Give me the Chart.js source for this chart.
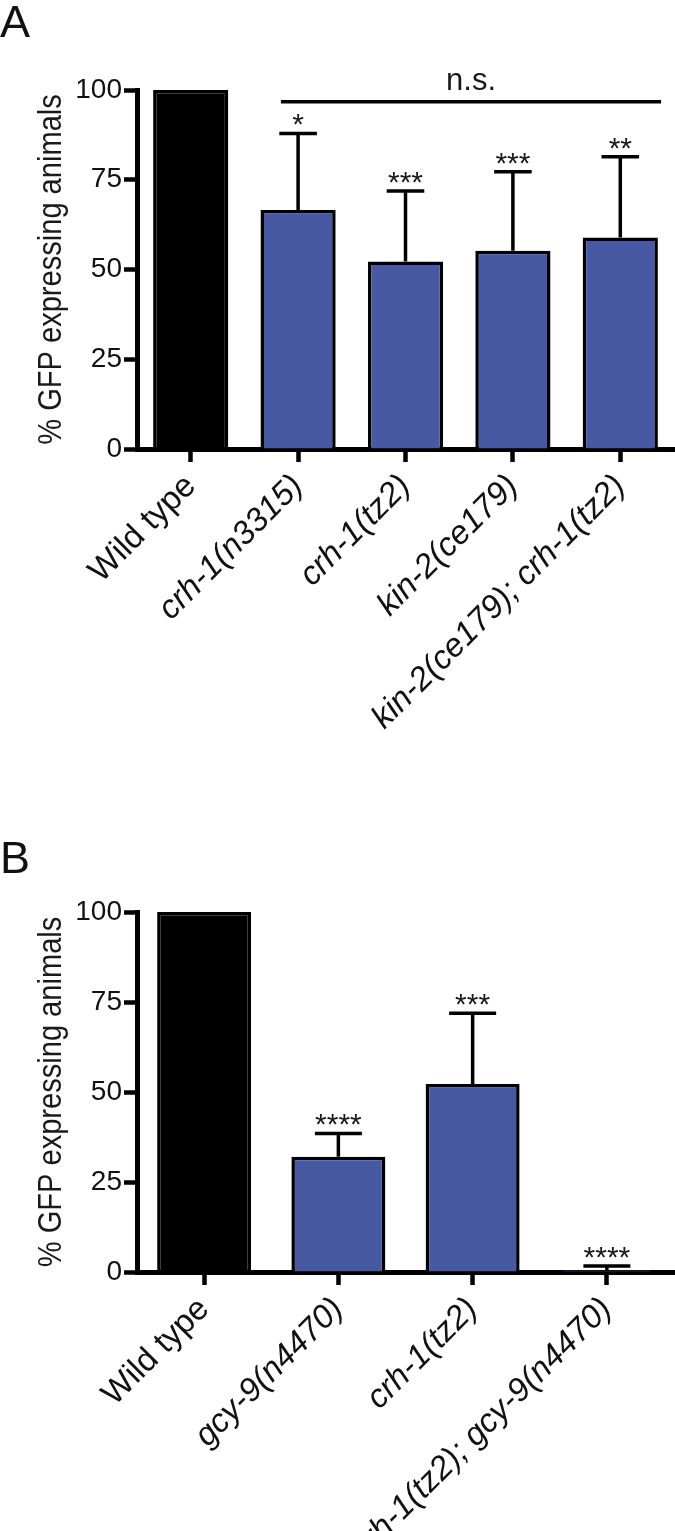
<!DOCTYPE html>
<html>
<head>
<meta charset="utf-8">
<script src="https://cdn.jsdelivr.net/npm/chart.js@4.4.1/dist/chart.umd.min.js"></script>
<style>
body { margin: 0; background: #fff; width: 675px; height: 1531px; position: relative; overflow: hidden; font-family: 'Liberation Sans', Arial, sans-serif; }
.panel { position: absolute; left: 0; width: 675px; }
.letter { position: absolute; left: 0; font-size: 45px; line-height: 45px; color: #111; z-index: 2; }
</style>
</head>
<body>
<div class="panel" style="top:0;height:840px"><canvas id="chartA"></canvas></div>
<div class="panel" style="top:840px;height:691px"><canvas id="chartB"></canvas></div>
<div class="letter" style="top:-1px">A</div>
<div class="letter" style="top:835px">B</div>
<script>
const FONT = "'Liberation Sans', Arial, sans-serif";
const BLUE = '#4759a3';
const Y_TITLE = '% GFP expressing animals';

// panel A
const labelsA = ['Wild type', 'crh-1(n3315)', 'crh-1(tz2)', 'kin-2(ce179)', 'kin-2(ce179); crh-1(tz2)'];
const meansA = [100, 66.6, 52.2, 55.2, 58.9];
const errA = [0, 21.3, 19.7, 22.0, 22.5];
const starsA = ['', '*', '***', '***', '**'];
const nsA = [1, 4, 96.7];   // from group, to group, height of the bracket

// panel B
const labelsB = ['Wild type', 'gcy-9(n4470)', 'crh-1(tz2)', 'crh-1(tz2); gcy-9(n4470)'];
const meansB = [100, 32.0, 52.2, 0.5];
const errB = [0, 6.5, 19.7, 1.2];
const starsB = ['', '****', '***', '****'];

const yTicks = [0, 25, 50, 75, 100];

/* -------- error bars, stars, n.s. line, y title -------- */
const annotate = {
    id: 'annotate',
    afterDatasetsDraw(chart, args, opts) {
        const ctx = chart.ctx;
        const y = chart.scales.y, x = chart.scales.x;
        const meta = chart.getDatasetMeta(0);
        ctx.save();
        ctx.strokeStyle = '#000';
        ctx.lineWidth = 3.5;
        ctx.fillStyle = '#1a1a1a';
        ctx.font = '30px ' + FONT;
        ctx.textAlign = 'center';
        ctx.textBaseline = 'alphabetic';
        meta.data.forEach((bar, i) => {
            if (!opts.err[i]) return;
            const top = y.getPixelForValue(opts.means[i] + opts.err[i]);
            const half = bar.width * 0.25;
            ctx.beginPath();
            ctx.moveTo(bar.x, bar.y);
            ctx.lineTo(bar.x, top);
            ctx.moveTo(bar.x - half, top);
            ctx.lineTo(bar.x + half, top);
            ctx.stroke();
            ctx.fillText(opts.stars[i], bar.x, top + 1);
        });
        if (opts.ns) {
            const yy = y.getPixelForValue(opts.ns[2]);
            const x1 = x.getPixelForValue(opts.ns[0] - 0.16);
            const x2 = x.getPixelForValue(opts.ns[1] + 0.38);
            ctx.beginPath();
            ctx.moveTo(x1, yy);
            ctx.lineTo(x2, yy);
            ctx.stroke();
            ctx.font = '31px ' + FONT;
            ctx.fillText('n.s.', (x1 + x2) / 2, yy - 12);
        }
        // y title, a little condensed like the original
        const area = chart.chartArea;
        ctx.translate(52, (area.top + area.bottom) / 2);
        ctx.rotate(-Math.PI / 2);
        ctx.scale(0.855, 1);
        ctx.font = '34px ' + FONT;
        ctx.textBaseline = 'middle';
        ctx.fillText(Y_TITLE, 0, 0);
        ctx.restore();
    }
};

function makeChart(id, labels, means, err, stars, ns, padTop, xHeight) {
    return new Chart(document.getElementById(id), {
        type: 'bar',
        data: {
            labels,
            datasets: [{
                data: means,
                backgroundColor: means.map((v, i) => i === 0 ? '#000' : BLUE),
                borderColor: '#000',
                borderWidth: 3.5,
                barPercentage: 0.7,
                categoryPercentage: 1
            }]
        },
        options: {
            responsive: true,
            maintainAspectRatio: false,
            animation: false,
            devicePixelRatio: 1,
            layout: { padding: { top: padTop, right: 1, left: 0, bottom: 0 } },
            plugins: {
                legend: { display: false },
                tooltip: { enabled: false },
                annotate: { means, err, stars, ns }
            },
            scales: {
                x: {
                    z: 1,
                    grid: { drawOnChartArea: false, offset: false, tickLength: 13, tickWidth: 4.5, color: '#000' },
                    border: { display: true, width: 5, color: '#000' },
                    ticks: {
                        color: '#111',
                        autoSkip: false,
                        maxRotation: 45,
                        minRotation: 45,
                        padding: 5,
                        font: c => ({ family: FONT, size: 33, style: c.index === 0 ? 'normal' : 'italic' })
                    },
                    afterFit: s => { s.height = xHeight; }
                },
                y: {
                    z: 1,
                    min: 0,
                    max: 100,
                    afterBuildTicks: s => { s.ticks = yTicks.map(v => ({ value: v })); },
                    ticks: { color: '#111', padding: 2, font: { family: FONT, size: 28 } },
                    grid: { drawOnChartArea: false, tickLength: 13, tickWidth: 4.5, color: '#000' },
                    border: { display: true, width: 5, color: '#000' },
                    afterFit: s => { s.width = 137; }
                }
            }
        },
        plugins: [annotate]
    });
}

makeChart('chartA', labelsA, meansA, errA, starsA, nsA, 90, 391);
makeChart('chartB', labelsB, meansB, errB, starsB, null, 72, 259);
</script>
</body>
</html>
